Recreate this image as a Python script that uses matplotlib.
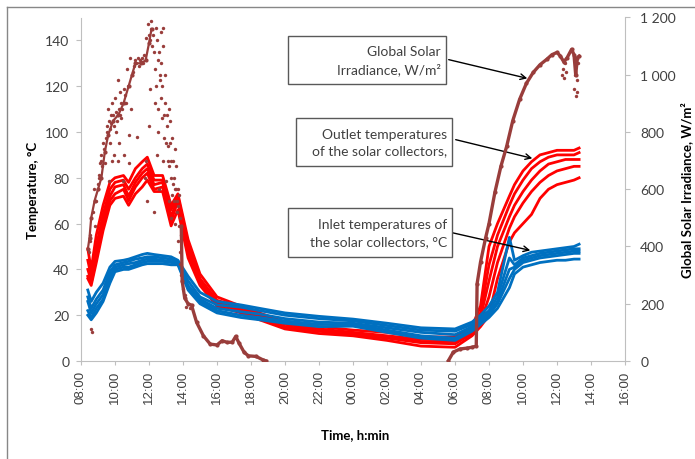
import numpy as np
import matplotlib.pyplot as plt
from matplotlib.lines import Line2D
from matplotlib.patches import Rectangle

plt.rcParams['font.family'] = ['Lato', 'DejaVu Sans']

# time in hours from 00:00 of the first day
t_temp = [8.4, 8.6, 8.9, 9.3, 9.7, 10.0, 10.5, 10.8, 11.2, 11.6, 11.9, 12.3, 12.8, 13.3,
          13.7, 14.3, 15.0, 16.0, 17.4, 18.5, 20.0, 22.0, 24.0, 26.0, 28.0, 30.0, 31.0,
          31.5, 32.0, 32.5, 33.2, 33.5, 34.0, 34.5, 35.0, 35.5, 36.0, 36.5, 37.0, 37.3]

# outlet temperatures, degC
outlet_1 = [49, 40, 55, 68, 78, 80, 81, 78, 84, 87, 89, 81, 81, 68, 73, 53, 38, 28, 24, 21,
            17, 15, 13.5, 12.5, 10.5, 10.5, 15, 24, 50, 60, 72, 77, 83, 87, 90, 91, 92, 92, 92, 93]
outlet_2 = [44, 37, 50, 64, 75, 78, 79, 75, 80, 84, 86, 79, 79, 66, 72, 51, 36, 26.5, 23.5, 20,
            16, 14, 12.5, 11, 9.5, 9.5, 14, 21, 42, 55, 68, 73, 79, 84, 87, 89, 90, 90, 90, 91]
outlet_3 = [40, 35, 47, 62, 72, 76, 77, 72, 78, 82, 84, 77, 78, 63, 71, 49, 35, 25.5, 22.5, 19,
            15, 13.5, 12, 10.5, 8.5, 8.5, 13, 19, 35, 50, 63, 68, 74, 79, 83, 86, 87, 88, 88, 88]
outlet_4 = [37, 34, 45, 60, 70, 73, 75, 70, 76, 80, 82, 75, 76, 61, 70, 47, 34, 25, 22, 18.5,
            14.5, 13, 11.5, 10, 8, 7.5, 12, 17, 28, 43, 58, 63, 69, 74, 78, 81, 83, 84, 85, 85]
outlet_5 = [36, 33, 43, 57, 68, 71, 72, 68, 73, 76, 79, 74, 74, 59, 66, 45, 33, 24, 21, 18,
            14, 12, 11, 9, 6.5, 6, 11, 15, 20, 36, 52, 56, 60, 64, 71, 75, 77, 78, 79, 80]

# inlet temperatures, degC
inlet_1 = [31, 26, 30, 34, 41, 43.5, 44, 44.5, 45.5, 46.5, 47, 46.5, 46, 45.5, 44, 37, 30, 26,
           24.5, 23, 21, 19.5, 18.3, 16.5, 14.5, 14, 17, 20, 24, 30, 54, 44, 46, 47.5, 48, 48.5,
           49, 49.5, 50, 51]
inlet_2 = [28, 23, 27, 31, 39, 42, 43, 43.5, 44.5, 45, 45.5, 45.5, 45, 44.5, 43.5, 35, 28, 24.5,
           23.5, 22, 20, 18.5, 17.5, 15.5, 13.5, 13, 16, 19, 22, 28, 45, 42, 45, 46, 47, 47.5,
           48, 48.5, 49, 49]
inlet_3 = [26, 21, 25, 29, 37, 41, 42, 42.5, 43, 44, 44.5, 44.5, 44, 43.5, 43, 33, 27, 23,
           21.5, 20.5, 18.5, 17, 16.5, 14.5, 12.5, 11.5, 15, 18, 21, 26, 40, 41, 44, 45, 46,
           46.5, 47, 47.5, 48, 48]
inlet_4 = [22, 19, 23, 27, 35, 40, 41, 41, 42, 43, 43.5, 43.5, 43.5, 43, 42.5, 32, 26, 22, 20,
           19, 17.5, 16, 15.8, 13.5, 11, 10, 14, 17, 20, 25, 36, 40, 43, 44, 45, 45.5, 46,
           46.5, 47, 47]
inlet_5 = [20, 18, 21, 26, 34, 39, 40, 40, 41, 42, 42.5, 42.5, 42.5, 42, 42, 31, 25, 21, 19,
           18, 16.5, 15, 15.2, 12.5, 10, 9, 13, 16, 19, 23, 32, 38, 41, 42, 43, 43.5, 44, 44,
           44.5, 44.5]

# global solar irradiance, W/m2: first-day morning core, first-day evening tail, second day
irr_t_am = [8.4, 8.5, 8.6, 8.8, 9.0, 9.2, 9.4, 9.6, 9.9, 10.2, 10.5, 10.8, 11.0, 11.2, 11.5,
            11.8, 12.0, 12.15]
irr_g_am = [390, 430, 500, 560, 600, 640, 730, 790, 840, 860, 900, 960, 1000, 1040, 1040,
            1050, 1110, 1160]
irr_t_pm = [13.9, 13.95, 14.1, 14.3, 14.5, 14.8, 15.2, 15.6, 16.0, 16.3, 16.6, 16.9, 17.1,
            17.3, 17.6, 17.85, 18.3, 18.7, 18.9]
irr_g_pm = [470, 280, 220, 200, 195, 135, 88, 59, 56, 71, 65, 66, 86, 62, 30, 18, 16, 4, 0]
irr_t2 = [29.6, 29.9, 30.3, 30.7, 31.0, 31.25, 31.3, 31.5, 31.8, 32.0, 32.35, 32.7, 33.04,
          33.4, 33.8, 34.2, 34.6, 35.0, 35.4, 35.7, 36.0, 36.2, 36.4, 36.6, 36.86, 37.0,
          37.1, 37.2, 37.3]
irr_g2 = [0, 31, 42, 45, 48, 52, 270, 345, 430, 480, 590, 680, 750, 840, 914, 970, 1008, 1035,
          1054, 1070, 1078, 1065, 1045, 1060, 1089, 1070, 1000, 1060, 1065]

# scattered irradiance readings
irr_sc_t = [8.45, 8.5, 8.55, 8.6, 8.65, 8.7, 8.75, 8.85, 8.9, 9.0, 9.05, 9.1, 9.2, 9.3, 9.4,
            9.5, 9.6, 9.65, 9.7, 9.75, 9.8, 9.85, 9.95, 10.0, 10.05, 10.15, 10.2, 10.25, 10.3,
            10.35, 10.45, 10.5, 10.55, 10.7, 10.8, 10.85, 10.9, 10.95, 11.3, 11.75, 11.8,
            11.85, 11.9, 11.95, 12.0, 12.05, 12.1, 12.2, 12.3, 12.35, 12.4, 12.45, 12.5, 12.55,
            12.6, 12.65, 12.7, 12.75, 12.8, 12.85, 12.9, 12.95, 13.0, 13.05, 13.1, 13.15, 13.2,
            13.25, 13.3, 13.35, 13.4, 13.45, 13.5, 13.55, 13.6, 13.65, 13.7, 13.75, 13.8,
            13.85, 13.9, 14.0, 14.1, 14.2, 14.4,
            9.02, 9.08, 9.15, 9.25, 9.35, 9.45, 9.55, 9.62, 9.68, 9.78, 9.88, 9.92, 10.08,
            10.12, 10.22, 10.28, 10.38, 10.42, 10.6, 10.65, 10.75, 11.05, 11.1, 11.15, 11.25,
            11.35, 11.4, 11.45, 11.55, 11.6, 11.65, 11.7, 12.02, 12.08, 12.12, 12.25, 12.32,
            12.38, 12.42, 12.48, 12.52, 12.58, 12.62, 12.68, 12.72, 12.78, 12.82, 12.88, 12.92,
            13.02, 13.08, 13.12, 13.18, 13.22, 13.28, 13.32, 13.38, 13.42, 13.48, 13.52, 13.58,
            13.62, 13.68, 13.72, 13.78, 13.82, 13.88,
            36.3, 36.35, 36.4, 36.45, 36.5, 37.0, 37.05, 37.1, 37.15, 37.2, 37.25]
irr_sc_g = [380, 420, 440, 112, 100, 520, 600, 470, 560, 620, 650, 690, 720, 760, 690,
            820, 880, 630, 760, 860, 700, 900, 720, 920, 800, 980, 700, 760, 940,
            850, 630, 950, 720, 1020, 690, 790, 1060, 880, 784, 640, 700,
            1130, 560, 1176, 820, 950, 1188, 1100, 520, 900, 1165, 720, 1050, 800,
            600, 980, 1150, 850, 1165, 700, 780, 900, 630, 860, 750, 560, 680,
            840, 500, 780, 620, 560, 740, 480, 600, 520, 420, 470, 340,
            380, 300, 250, 230, 190, 185,
            600, 640, 700, 680, 740, 780, 800, 840, 810, 830, 860, 820, 870,
            840, 880, 860, 900, 880, 930, 900, 960, 1010, 1030, 1050, 1040,
            1060, 1030, 1050, 1045, 1060, 1040, 1070, 1140, 1120, 1160, 1140, 1080,
            1020, 960, 1120, 880, 1080, 1000, 920, 1040, 960, 1100, 860, 1000,
            760, 820, 700, 880, 760, 640, 700, 580, 700, 640, 600, 680,
            560, 600, 540, 580, 500, 440,
            1000, 1020, 990, 1040, 1010, 950, 1000, 925, 980, 940, 1040]

x_ticks = [8, 10, 12, 14, 16, 18, 20, 22, 24, 26, 28, 30, 32, 34, 36, 38, 40]
x_labels = ['08:00', '10:00', '12:00', '14:00', '16:00', '18:00', '20:00', '22:00', '00:00',
            '02:00', '04:00', '06:00', '08:00', '10:00', '12:00', '14:00', '16:00']
irr_ticks = [0, 200, 400, 600, 800, 1000, 1200]
irr_labels = ['0', '200', '400', '600', '800', '1 000', '1 200']

RED = '#FF0000'
BLUE = '#0070C0'
BROWN = '#993D3B'
AXC = '#BFBFBF'
TXT = '#404040'

fig = plt.figure(figsize=(6.95, 4.6), dpi=100)
ax = fig.add_axes([81 / 695, 1 - 362 / 460, 544 / 695, 343.5 / 460])

for s in [outlet_1, outlet_2, outlet_3, outlet_4, outlet_5]:
    ax.plot(t_temp, s, color=RED, lw=2.0, zorder=2)
for s in [inlet_1, inlet_2, inlet_3, inlet_4, inlet_5]:
    ax.plot(t_temp, s, color=BLUE, lw=2.0, zorder=3)

ax.set_xlim(8, 40)
ax.set_ylim(0, 150)
ax.set_xticks(x_ticks)
ax.set_xticklabels(x_labels, rotation=90, family=['Liberation Sans'], fontsize=9.5)
ax.set_yticks([0, 20, 40, 60, 80, 100, 120, 140])
ax.tick_params(axis='y', colors=AXC, labelcolor=TXT, labelsize=10, length=3.5, pad=5)
ax.tick_params(axis='x', colors=AXC, labelcolor=TXT, length=3, pad=3.5)
for sp in ['top', 'right']:
    ax.spines[sp].set_visible(False)
for sp in ['left', 'bottom']:
    ax.spines[sp].set_color(AXC)

ax.set_ylabel('Temperature, °C', fontsize=9.5, fontweight='bold', color='black')
ax.yaxis.set_label_coords(-0.077, 0.5)
ax.set_xlabel('Time, h:min', fontsize=9.5, fontweight='bold', color='black')
ax.xaxis.set_label_coords(0.504, -0.195)

ax2 = ax.twinx()
ax2.plot(irr_t_am, irr_g_am, color=BROWN, lw=1.6, marker='o', ms=2, zorder=4)
ax2.plot(irr_t_pm, irr_g_pm, color=BROWN, lw=2.4, marker='o', ms=2, zorder=4)
ax2.plot(irr_t2, irr_g2, color=BROWN, lw=2.4, marker='o', ms=2, zorder=4)
ax2.scatter(irr_sc_t, irr_sc_g, s=6, color=BROWN, lw=0, zorder=4)
ax2.set_ylim(0, 1200)
ax2.set_yticks(irr_ticks)
ax2.set_yticklabels(irr_labels)
ax2.tick_params(axis='y', colors=AXC, labelcolor=TXT, labelsize=10, length=3.5, pad=7.5)
for sp in ['top', 'left', 'bottom']:
    ax2.spines[sp].set_visible(False)
ax2.spines['right'].set_color(AXC)
ax2.set_ylabel('Global Solar Irradiance, W/m²', fontsize=9.5, fontweight='bold', color='black')
ax2.yaxis.set_label_coords(1.101, 0.5)

# annotation boxes with arrows (figure pixel layout)
W, H = 695, 460
boxes = [
    ((288, 37, 446, 85), 'Global Solar\nIrradiance, W/m²', (446, 60), (530, 80)),
    ((296, 119, 452, 167), 'Outlet temperatures\nof the solar collectors,', (453, 140), (535, 160)),
    ((288, 209, 452, 258), 'Inlet temperatures of\nthe solar collectors, °C', (449, 233), (533, 252)),
]
for (x0, y0, x1, y1), txt, a0, a1 in boxes:
    fig.patches.append(Rectangle((x0 / W, 1 - y1 / H), (x1 - x0) / W, (y1 - y0) / H,
                                 transform=fig.transFigure, facecolor='white',
                                 edgecolor='#595959', lw=1, zorder=5))
    fig.text((x1 - 5) / W, 1 - (y0 + y1) / 2 / H, txt, ha='right', va='center',
             fontsize=10, color=TXT, linespacing=1.45, zorder=6)
    ax.annotate('', xy=(a1[0] / W, 1 - a1[1] / H), xycoords='figure fraction',
                xytext=(a0[0] / W, 1 - a0[1] / H), textcoords='figure fraction',
                arrowprops=dict(arrowstyle='->', color='black', lw=1), zorder=7)

# outer chart frame
fig.add_artist(Line2D([7 / W, 7 / W], [0, 1 - 8 / H], color='#878787', lw=1))
fig.add_artist(Line2D([7 / W, 1], [1 - 8 / H, 1 - 8 / H], color='#878787', lw=1))

fig.savefig('out.png', dpi=100)
